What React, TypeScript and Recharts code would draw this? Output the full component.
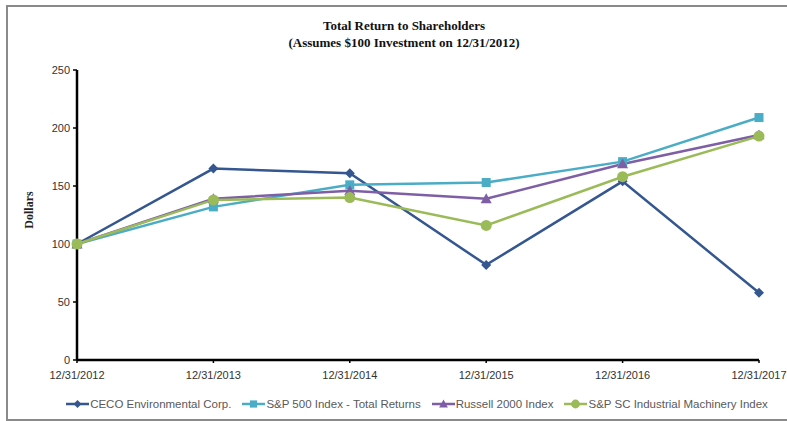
import React from 'react';
import { LineChart, Line, XAxis, YAxis, Legend } from 'recharts';

const dates = ['12/31/2012', '12/31/2013', '12/31/2014', '12/31/2015', '12/31/2016', '12/31/2017'];
const ceco = [100, 165, 161, 82, 154, 58];
const sp500 = [100, 132, 151, 153, 171, 209];
const russell = [100, 139, 146, 139, 169, 194];
const machinery = [100, 138, 140, 116, 158, 193];
const yTicks = [0, 50, 100, 150, 200, 250];

const names = {
  ceco: 'CECO Environmental Corp.',
  sp500: 'S&P 500 Index - Total Returns',
  russell: 'Russell 2000 Index',
  machinery: 'S&P SC Industrial Machinery Index',
};

const colors = {
  ceco: '#34578F',
  sp500: '#4BACC6',
  russell: '#7E5EA5',
  machinery: '#9BBB59',
};

const data = dates.map((d, i) => ({
  date: d,
  ceco: ceco[i],
  sp500: sp500[i],
  russell: russell[i],
  machinery: machinery[i],
}));

type Shape = 'diamond' | 'square' | 'triangle' | 'circle';

const Marker = ({ cx, cy, shape, color, s = 1 }: { cx: number; cy: number; shape: Shape; color: string; s?: number }) => {
  if (shape === 'diamond') {
    const r = 5 * s;
    return <polygon points={`${cx},${cy - r} ${cx + r},${cy} ${cx},${cy + r} ${cx - r},${cy}`} fill={color} />;
  }
  if (shape === 'square') {
    const r = 4.5 * s;
    return <rect x={cx - r} y={cy - r} width={2 * r} height={2 * r} fill={color} />;
  }
  if (shape === 'triangle') {
    const r = 5.5 * s;
    return <polygon points={`${cx},${cy - r} ${cx + r},${cy + r * 0.8} ${cx - r},${cy + r * 0.8}`} fill={color} />;
  }
  return <circle cx={cx} cy={cy} r={5.5 * s} fill={color} />;
};

const makeDot = (shape: Shape, color: string) => (props: any) => {
  const { cx, cy, index } = props;
  if (cx == null || cy == null) return <g key={index} />;
  return <Marker key={index} cx={cx} cy={cy} shape={shape} color={color} />;
};

const seriesList: { key: keyof typeof names; shape: Shape }[] = [
  { key: 'ceco', shape: 'diamond' },
  { key: 'sp500', shape: 'square' },
  { key: 'russell', shape: 'triangle' },
  { key: 'machinery', shape: 'circle' },
];

const renderLegend = () => (
  <div
    style={{
      display: 'flex',
      justifyContent: 'center',
      alignItems: 'center',
      gap: 11,
      fontFamily: 'Liberation Sans, Arial, sans-serif',
      fontSize: 11.5,
      color: '#595959',
      whiteSpace: 'nowrap',
    }}
  >
    {seriesList.map((s) => (
      <span key={s.key} style={{ display: 'inline-flex', alignItems: 'center' }}>
        <svg width={23} height={12} style={{ marginRight: 1 }}>
          <line x1={0} y1={6} x2={23} y2={6} stroke={colors[s.key]} strokeWidth={2.5} />
          <Marker cx={11.5} cy={6} shape={s.shape} color={colors[s.key]} s={0.8} />
        </svg>
        <span>{names[s.key]}</span>
      </span>
    ))}
  </div>
);

export default function App() {
  return (
    <div style={{ position: 'absolute', left: 0, top: 0, width: 787, height: 421, background: '#fff' }}>
      <div
        style={{
          position: 'absolute',
          left: 6,
          top: 5,
          width: 781,
          height: 412,
          borderTop: '2px solid #8a8a8a',
          borderLeft: '2px solid #8a8a8a',
          borderBottom: '2px solid #8a8a8a',
        }}
      />
      <div
        style={{
          position: 'absolute',
          left: 0,
          top: 17,
          width: 808,
          textAlign: 'center',
          fontFamily: '"Liberation Serif", "Times New Roman", serif',
          fontWeight: 'bold',
          fontSize: 13,
          lineHeight: '17px',
          color: '#111',
        }}
      >
        <div>Total Return to Shareholders</div>
        <div>(Assumes $100 Investment on 12/31/2012)</div>
      </div>
      <div
        style={{
          position: 'absolute',
          left: 29,
          top: 210,
          transform: 'translate(-50%, -50%) rotate(-90deg)',
          fontFamily: '"Liberation Serif", "Times New Roman", serif',
          fontWeight: 'bold',
          fontSize: 12,
          color: '#222',
        }}
      >
        Dollars
      </div>
      <LineChart
        width={787}
        height={421}
        data={data}
        margin={{ top: 70, right: 28, bottom: 31, left: 37 }}
        style={{ position: 'absolute', left: 0, top: 0 }}
      >
        <XAxis
          dataKey="date"
          height={30}
          axisLine={{ stroke: '#000', strokeWidth: 2.5 }}
          tickLine={{ stroke: '#000', strokeWidth: 1.5 }}
          tickSize={3}
          tickMargin={8}
          tick={{ fontSize: 11, fill: '#333', fontFamily: 'Liberation Sans, Arial, sans-serif' }}
          interval={0}
        />
        <YAxis
          width={40}
          domain={[0, 250]}
          ticks={yTicks}
          axisLine={{ stroke: '#000', strokeWidth: 2.5 }}
          tickLine={{ stroke: '#000', strokeWidth: 1.5 }}
          tickSize={4}
          tickMargin={3}
          tick={{ fontSize: 11, fill: '#333', fontFamily: 'Liberation Sans, Arial, sans-serif' }}
        />
        <Legend
          layout="horizontal"
          verticalAlign="middle"
          align="center"
          content={renderLegend}
          wrapperStyle={{ position: 'absolute', top: 398, left: 0, width: 834, height: 14 }}
        />
        {seriesList.map((s) => (
          <Line
            key={s.key}
            type="linear"
            dataKey={s.key}
            name={names[s.key]}
            stroke={colors[s.key]}
            strokeWidth={2.5}
            dot={makeDot(s.shape, colors[s.key])}
            activeDot={false}
            isAnimationActive={false}
          />
        ))}
      </LineChart>
    </div>
  );
}
